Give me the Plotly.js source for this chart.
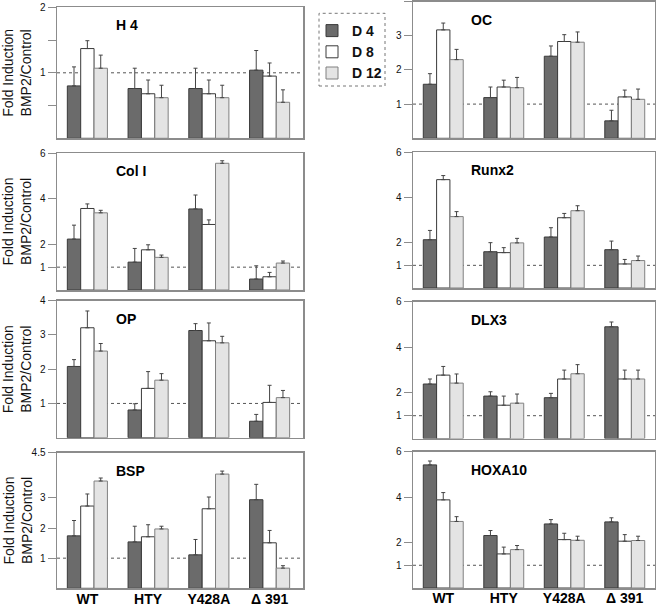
<!DOCTYPE html>
<html><head><meta charset="utf-8">
<script src="https://cdn.plot.ly/plotly-3.0.1.min.js"></script>
<style>html,body{margin:0;padding:0;background:#fff}#chart{width:656px;height:606px}</style>
</head><body><div id="chart"></div>
<script>
// ---------- data ----------
const categories = ['WT', 'HTY', 'Y428A', 'Δ 391'];
const dayNames = ['D 4', 'D 8', 'D 12'];
const yTitle = 'Fold Induction<br>BMP2/Control';

// each gene: [D4 values, D8 values, D12 values] across categories
const h4Values  = [[0.80, 0.76, 0.76, 1.04], [1.37, 0.68, 0.68, 0.95], [1.07, 0.62, 0.62, 0.55]];
const h4Errors  = [[0.29, 0.31, 0.31, 0.30], [0.12, 0.21, 0.21, 0.20], [0.20, 0.19, 0.19, 0.19]];
const col1Values = [[2.23, 1.22, 3.55, 0.48], [3.57, 1.76, 2.87, 0.58], [3.38, 1.43, 5.55, 1.18]];
const col1Errors = [[0.61, 0.60, 0.61, 0.58], [0.20, 0.22, 0.20, 0.19], [0.11, 0.10, 0.11, 0.09]];
const opValues  = [[2.08, 0.81, 3.13, 0.48], [3.21, 1.44, 2.83, 1.03], [2.53, 1.68, 2.77, 1.17]];
const opErrors  = [[0.20, 0.18, 0.20, 0.20], [0.49, 0.49, 0.52, 0.50], [0.22, 0.19, 0.19, 0.21]];
const bspValues = [[1.74, 1.54, 1.11, 2.94], [2.73, 1.71, 2.64, 1.51], [3.56, 1.97, 3.79, 0.67]];
const bspErrors = [[0.51, 0.52, 0.51, 0.51], [0.40, 0.40, 0.39, 0.41], [0.10, 0.09, 0.10, 0.08]];
const ocValues  = [[1.58, 1.19, 2.40, 0.51], [3.17, 1.50, 2.83, 1.21], [2.30, 1.48, 2.81, 1.14]];
const ocErrors  = [[0.31, 0.31, 0.30, 0.31], [0.20, 0.20, 0.20, 0.20], [0.30, 0.30, 0.30, 0.30]];
const runx2Values = [[2.13, 1.60, 2.25, 1.69], [4.78, 1.56, 3.10, 1.06], [3.15, 1.99, 3.41, 1.21]];
const runx2Errors = [[0.41, 0.40, 0.41, 0.38], [0.18, 0.22, 0.19, 0.20], [0.22, 0.20, 0.22, 0.20]];
const dlx3Values = [[2.39, 1.86, 1.79, 4.90], [2.78, 1.46, 2.61, 2.61], [2.43, 1.55, 2.84, 2.61]];
const dlx3Errors = [[0.22, 0.19, 0.19, 0.21], [0.38, 0.40, 0.39, 0.39], [0.40, 0.40, 0.40, 0.39]];
const hoxa10Values = [[5.42, 2.31, 2.82, 2.91], [3.88, 1.50, 2.13, 2.06], [2.93, 1.69, 2.10, 2.09]];
const hoxa10Errors = [[0.17, 0.22, 0.19, 0.18], [0.32, 0.30, 0.28, 0.29], [0.21, 0.18, 0.18, 0.19]];

// axis ticks
const h4TickVals = [0.5, 1, 1.5, 2];   const h4TickText = ['', '1', '', '2'];
const ticks4 = [1, 2, 3, 4];           const ticks4Text = ['1', '2', '3', '4'];
const ticks6 = [1, 2, 4, 6];           const ticks6Text = ['1', '2', '4', '6'];
const bspTickVals = [1, 2, 3, 4.5];    const bspTickText = ['1', '2', '3', '4.5'];
const h4Range = [0, 2]; const range4 = [0, 4]; const range6 = [0, 6]; const bspRange = [0, 4.5];

// ---------- layout / style ----------
const fills = ['#6b6b6b', '#ffffff', '#e4e4e4'];
const outlines = ['#3a3a3a', '#3a3a3a', '#808080'];
const frameColor = '#8c8c8c';
const fontFam = 'Liberation Sans, Arial, sans-serif';

const leftX = [57 / 656, 303 / 656];
const rightX = [413 / 656, 655 / 656];
function ydom(top, bottom) { return [1 - bottom / 606, 1 - top / 606]; }

const panels = [
  { name: 'H 4',    vals: h4Values,    errs: h4Errors,    tv: h4TickVals,  tt: h4TickText,  range: h4Range,  xd: leftX,  yd: ydom(7.3, 138.3), xr: [-0.5, 3.55], bottom: false },
  { name: 'Col I',  vals: col1Values,  errs: col1Errors,  tv: ticks6,      tt: ticks6Text,  range: range6,   xd: leftX,  yd: ydom(153, 290),   xr: [-0.5, 3.55], bottom: false },
  { name: 'OP',     vals: opValues,    errs: opErrors,    tv: ticks4,      tt: ticks4Text,  range: range4,   xd: leftX,  yd: ydom(300.7, 437.7), xr: [-0.5, 3.55], bottom: false },
  { name: 'BSP',    vals: bspValues,   errs: bspErrors,   tv: bspTickVals, tt: bspTickText, range: bspRange, xd: leftX,  yd: ydom(452.7, 588.3), xr: [-0.5, 3.55], bottom: true },
  { name: 'OC',     vals: ocValues,    errs: ocErrors,    tv: ticks4,      tt: ticks4Text,  range: range4,   xd: rightX, yd: ydom(1.5, 138.3), xr: [-0.5, 3.5], bottom: false },
  { name: 'Runx2',  vals: runx2Values, errs: runx2Errors, tv: ticks6,      tt: ticks6Text,  range: range6,   xd: rightX, yd: ydom(152, 288),   xr: [-0.5, 3.5], bottom: false },
  { name: 'DLX3',   vals: dlx3Values,  errs: dlx3Errors,  tv: ticks6,      tt: ticks6Text,  range: range6,   xd: rightX, yd: ydom(301.7, 438.5), xr: [-0.5, 3.5], bottom: false },
  { name: 'HOXA10', vals: hoxa10Values, errs: hoxa10Errors, tv: ticks6,    tt: ticks6Text,  range: range6,   xd: rightX, yd: ydom(451.7, 588), xr: [-0.5, 3.5], bottom: true }
];

const traces = [];
const layout = {
  width: 656, height: 606,
  margin: { l: 0, r: 0, t: 0, b: 0 },
  paper_bgcolor: '#ffffff', plot_bgcolor: 'rgba(0,0,0,0)',
  font: { family: fontFam, color: '#111' },
  barmode: 'group', bargap: 0.34, bargroupgap: 0,
  showlegend: true,
  legend: {
    x: 312 / 656, y: 1 - 15 / 606, xanchor: 'left', yanchor: 'top',
    bgcolor: 'rgba(0,0,0,0)', borderwidth: 0,
    font: { size: 14, weight: 'bold', family: fontFam, color: '#111' },
    tracegroupgap: 0, itemwidth: 30
  },
  shapes: [], annotations: []
};

panels.forEach((p, i) => {
  const n = i === 0 ? '' : String(i + 1);
  const xa = 'x' + n, ya = 'y' + n;
  dayNames.forEach((d, k) => {
    traces.push({
      type: 'bar', x: categories, y: p.vals[k], name: d,
      xaxis: xa, yaxis: ya, legendgroup: d, showlegend: i === 0,
      marker: { color: fills[k], line: { color: outlines[k], width: 1 } },
      error_y: { type: 'data', symmetric: false, array: p.errs[k], arrayminus: p.errs[k].map(() => 0),
                 color: '#444', thickness: 1, width: 2 },
      hoverinfo: 'skip'
    });
  });
  layout['xaxis' + n] = {
    domain: p.xd, anchor: ya, type: 'category', range: p.xr,
    showline: true, mirror: true, linecolor: frameColor, linewidth: 1.5,
    ticks: '', showgrid: false, zeroline: false,
    showticklabels: p.bottom, ticklabelstandoff: -3,
    tickfont: { size: 14, weight: 'bold', family: fontFam, color: '#000' }
  };
  layout['yaxis' + n] = {
    domain: p.yd, anchor: xa, range: p.range,
    showline: true, mirror: true, linecolor: frameColor, linewidth: 1.5,
    ticks: 'outside', ticklen: 8, tickwidth: 1, tickcolor: frameColor,
    tickmode: 'array', tickvals: p.tv, ticktext: p.tt,
    tickfont: { size: 10, family: fontFam, color: '#111' },
    showgrid: false, zeroline: false
  };
  layout.shapes.push({
    type: 'line', xref: xa + ' domain', yref: ya, x0: 0, x1: 1, y0: 1, y1: 1,
    layer: 'below', line: { color: '#555', width: 1, dash: 'dot' }
  });
  layout.annotations.push({
    text: '<b>' + p.name + '</b>', xref: xa + ' domain', yref: ya + ' domain',
    x: 0.23, y: 0.865, xanchor: 'left', yanchor: 'middle', showarrow: false,
    font: { size: 14, family: fontFam, color: '#000' }
  });
  if (p.xd === leftX) {
    layout.annotations.push({
      text: yTitle, xref: 'paper', yref: 'paper',
      x: 17 / 656, y: (p.yd[0] + p.yd[1]) / 2, xanchor: 'center', yanchor: 'middle',
      textangle: -90, showarrow: false,
      font: { size: 14, family: fontFam, color: '#111' }
    });
  }
});

layout.shapes.push({
  type: 'rect', xref: 'paper', yref: 'paper',
  x0: 319 / 656, x1: 385 / 656, y0: 1 - 86 / 606, y1: 1 - 13.3 / 606,
  line: { color: '#777', width: 1, dash: 'dot' }, fillcolor: 'rgba(0,0,0,0)'
});

Plotly.newPlot('chart', traces, layout, { staticPlot: true, displayModeBar: false });
</script>
</body></html>
